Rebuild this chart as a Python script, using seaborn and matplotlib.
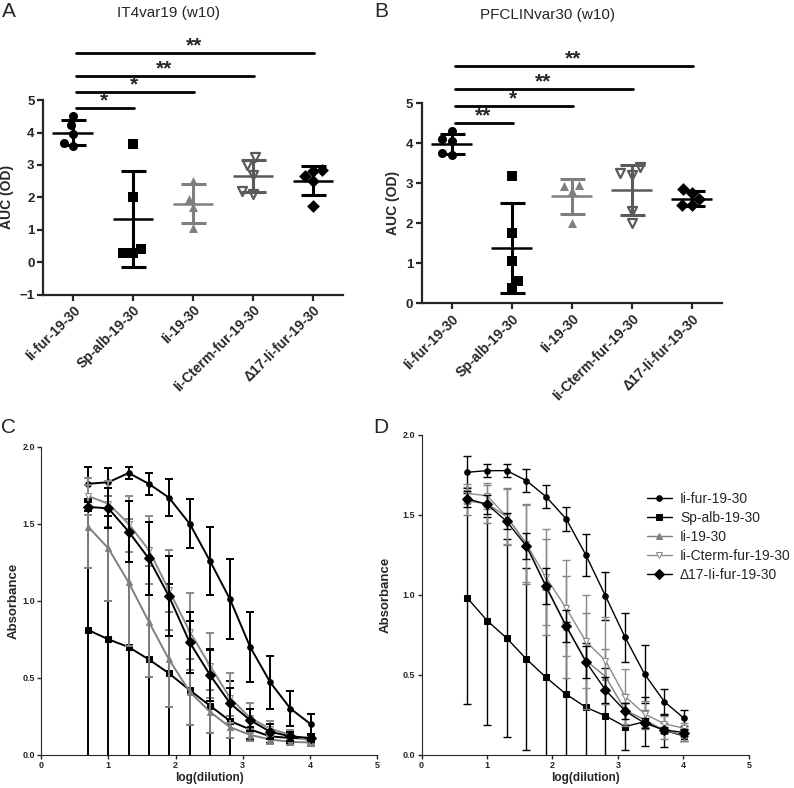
import numpy as np
import pandas as pd
import matplotlib
matplotlib.use("Agg")
import matplotlib.pyplot as plt
import seaborn as sns

# =========================
# data
# =========================
groups = ["Ii-fur-19-30", "Sp-alb-19-30", "Ii-19-30", "Ii-Cterm-fur-19-30", "\u039417-Ii-fur-19-30"]

# panel A: IT4var19 (w10), AUC per animal
a_iifur = [4.52, 4.22, 3.95, 3.69, 3.57]
a_spalb = [3.65, 2.02, 0.42, 0.28, 0.30]
a_ii = [2.50, 1.95, 1.70, 1.05]
a_cterm = [3.25, 3.00, 2.70, 2.20, 2.10]
a_d17 = [2.85, 2.80, 2.65, 2.50, 1.75]

# panel B: PFCLINvar30 (w10)
b_iifur = [4.30, 4.10, 4.05, 3.75, 3.70]
b_spalb = [3.17, 1.77, 1.05, 0.55, 0.38]
b_ii = [2.95, 2.92, 2.80, 2.02]
b_cterm = [3.40, 3.25, 3.20, 2.30, 2.00]
b_d17 = [2.85, 2.75, 2.60, 2.45, 2.45]

# significance comparisons (target group index, stars)
sig_a = [(1, "*"), (2, "*"), (3, "**"), (4, "**")]
sig_b = [(1, "**"), (2, "*"), (3, "**"), (4, "**")]

# panels C/D: absorbance vs log(dilution)
log_dil = [0.70, 1.00, 1.30, 1.60, 1.90, 2.21, 2.51, 2.81, 3.11, 3.41, 3.71, 4.01]

c_iifur = [1.76, 1.77, 1.83, 1.76, 1.67, 1.50, 1.26, 1.01, 0.70, 0.47, 0.30, 0.20]
c_iifur_sd = [0.11, 0.09, 0.04, 0.07, 0.12, 0.16, 0.22, 0.26, 0.23, 0.17, 0.115, 0.065]
c_spalb = [0.81, 0.75, 0.70, 0.62, 0.53, 0.42, 0.32, 0.22, 0.165, 0.12, 0.11, 0.105]
c_spalb_sd = [0.85, 0.80, 0.75, 0.66, 0.58, 0.45, 0.36, 0.26, 0.06, 0.04, 0.03, 0.03]
c_ii = [1.48, 1.34, 1.12, 0.865, 0.62, 0.41, 0.28, 0.18, 0.13, 0.10, 0.085, 0.08]
c_ii_sd = [0.27, 0.34, 0.41, 0.36, 0.31, 0.215, 0.14, 0.07, 0.04, 0.03, 0.02, 0.02]
c_cterm = [1.68, 1.63, 1.50, 1.33, 1.07, 0.80, 0.58, 0.37, 0.24, 0.17, 0.13, 0.09]
c_cterm_sd = [0.12, 0.15, 0.18, 0.22, 0.26, 0.25, 0.21, 0.16, 0.10, 0.05, 0.03, 0.02]
c_d17 = [1.61, 1.60, 1.45, 1.275, 1.03, 0.73, 0.52, 0.335, 0.225, 0.15, 0.12, 0.11]
c_d17_sd = [0.03, 0.13, 0.20, 0.24, 0.26, 0.20, 0.17, 0.10, 0.07, 0.05, 0.03, 0.02]

d_iifur = [1.767, 1.777, 1.777, 1.715, 1.615, 1.475, 1.25, 0.994, 0.735, 0.504, 0.333, 0.229]
d_iifur_sd = [0.10, 0.04, 0.04, 0.07, 0.073, 0.073, 0.13, 0.15, 0.155, 0.18, 0.08, 0.05]
d_spalb = [0.98, 0.84, 0.73, 0.60, 0.485, 0.379, 0.298, 0.244, 0.177, 0.208, 0.152, 0.119]
d_spalb_sd = [0.66, 0.65, 0.62, 0.57, 0.55, 0.45, 0.40, 0.30, 0.145, 0.155, 0.10, 0.035]
d_ii = [1.587, 1.57, 1.49, 1.32, 1.05, 0.80, 0.59, 0.49, 0.28, 0.22, 0.152, 0.125]
d_ii_sd = [0.09, 0.12, 0.18, 0.25, 0.30, 0.32, 0.30, 0.17, 0.10, 0.06, 0.05, 0.04]
d_cterm = [1.635, 1.62, 1.49, 1.32, 1.11, 0.917, 0.71, 0.59, 0.365, 0.256, 0.194, 0.167]
d_cterm_sd = [0.06, 0.08, 0.17, 0.24, 0.30, 0.30, 0.29, 0.27, 0.17, 0.08, 0.05, 0.03]
d_d17 = [1.60, 1.567, 1.46, 1.306, 1.056, 0.806, 0.583, 0.406, 0.275, 0.198, 0.156, 0.14]
d_d17_sd = [0.05, 0.06, 0.05, 0.08, 0.115, 0.10, 0.10, 0.08, 0.05, 0.03, 0.02, 0.02]

# =========================
# style
# =========================
sns.set_style("ticks")
plt.rcParams["font.family"] = ["Liberation Sans", "DejaVu Sans"]

# per group: color, marker, filled?
look = {
    groups[0]: ("black", "o", True),
    groups[1]: ("black", "s", True),
    groups[2]: ("#7f7f7f", "^", True),
    groups[3]: ("#5a5a5a", "v", False),
    groups[4]: ("black", "D", True),
}

fig = plt.figure(figsize=(7.94, 7.88), dpi=100)


def scatter_panel(ax, values, sig, levels, ylim):
    rows = []
    for g, vals in zip(groups, values):
        for v in vals:
            rows.append({"group": g, "auc": v})
    df = pd.DataFrame(rows)

    for i, g in enumerate(groups):
        col, mk, filled = look[g]
        sub = df[df["group"] == g]
        if filled:
            sns.swarmplot(data=sub, x="group", y="auc", order=groups, color=col,
                          marker=mk, size=6.5, ax=ax)
        else:
            sns.swarmplot(data=sub, x="group", y="auc", order=groups, color="white",
                          edgecolor=col, linewidth=1.6, marker=mk, size=6.5, ax=ax)
        m = sub["auc"].mean()
        sd = sub["auc"].std()
        ax.hlines(m, i - 0.34, i + 0.34, color=col, lw=1.8, zorder=3)
        ax.errorbar(i, m, yerr=sd, fmt="none", ecolor=col, elinewidth=2.2,
                    capsize=9, capthick=2.2, zorder=3)

    # significance lines
    for (target, stars), y in zip(sig, levels):
        ax.plot([0.05, target + 0.02], [y, y], color="black", lw=2, clip_on=False)
        ax.text((target + 0.05) / 2, y - 0.06, stars, ha="center", va="bottom",
                fontsize=15, fontweight="bold")

    ax.set_xlim(-0.5, 4.5)
    ax.set_ylim(*ylim)
    ax.set_yticks(range(ylim[0], ylim[1] + 1))
    ax.set_xlabel("")
    ax.set_ylabel("AUC (OD)", fontsize=10, fontweight="bold", labelpad=4)
    ax.set_xticks(range(len(groups)))
    ax.set_xticklabels(groups, rotation=45, ha="right", rotation_mode="anchor",
                       fontsize=10, fontweight="bold")
    for lab in ax.get_yticklabels():
        lab.set_fontweight("bold")
        lab.set_fontsize(9.5)
    ax.tick_params(width=1.6, length=4, pad=2)
    for s in ["left", "bottom"]:
        ax.spines[s].set_linewidth(1.6)
    sns.despine(ax=ax)


def curve_panel(ax, series, lw, ypad):
    styles = [
        ("black", "o", "black", 4),
        ("black", "s", "black", 5),
        ("#7f7f7f", "^", "#7f7f7f", 5),
        ("#8a8a8a", "v", "white", 5),
        ("black", "D", "black", 5),
    ]
    for g, (means, sds), (col, mk, mfc, ms) in zip(groups, series, styles):
        ax.errorbar(log_dil, means, yerr=sds, fmt="none", ecolor=col,
                    elinewidth=lw, capsize=3, capthick=lw)
        sns.lineplot(x=log_dil, y=means, color=col, marker=mk, markersize=ms,
                     markerfacecolor=mfc, markeredgecolor=col, lw=lw, label=g, ax=ax)
    ax.set_xlim(0, 5)
    ax.set_ylim(0, 2)
    ax.set_xticks(range(6))
    ax.set_yticks([0, 0.5, 1.0, 1.5, 2.0])
    ax.set_yticklabels(["0.0", "0.5", "1.0", "1.5", "2.0"])
    ax.set_xlabel("log(dilution)", fontsize=8.5, fontweight="bold", labelpad=1)
    ax.set_ylabel("Absorbance", fontsize=9.5, fontweight="bold", labelpad=ypad)
    for lab in ax.get_xticklabels() + ax.get_yticklabels():
        lab.set_fontweight("bold")
        lab.set_fontsize(6.5)
    ax.tick_params(width=1, length=3, pad=1.5)
    sns.despine(ax=ax)


# =========================
# panel A
# =========================
ax_a = fig.add_axes([0.054, 0.626, 0.378, 0.247])
scatter_panel(ax_a, [a_iifur, a_spalb, a_ii, a_cterm, a_d17], sig_a,
              [4.75, 5.25, 5.74, 6.45], (-1, 5))
fig.text(0.212, 0.983, "IT4var19 (w10)", ha="center", va="center", fontsize=11)

# =========================
# panel B
# =========================
ax_b = fig.add_axes([0.531, 0.615, 0.378, 0.254])
scatter_panel(ax_b, [b_iifur, b_spalb, b_ii, b_cterm, b_d17], sig_b,
              [4.5, 4.92, 5.36, 5.94], (0, 5))
fig.text(0.689, 0.981, "PFCLINvar30 (w10)", ha="center", va="center", fontsize=11)

# =========================
# panel C
# =========================
ax_c = fig.add_axes([0.052, 0.042, 0.423, 0.391])
curve_panel(ax_c, [(c_iifur, c_iifur_sd), (c_spalb, c_spalb_sd), (c_ii, c_ii_sd),
                   (c_cterm, c_cterm_sd), (c_d17, c_d17_sd)], 1.4, 2)
ax_c.get_legend().remove()

# =========================
# panel D
# =========================
ax_d = fig.add_axes([0.531, 0.042, 0.412, 0.406])
curve_panel(ax_d, [(d_iifur, d_iifur_sd), (d_spalb, d_spalb_sd), (d_ii, d_ii_sd),
                   (d_cterm, d_cterm_sd), (d_d17, d_d17_sd)], 1.0, 8)
ax_d.legend(loc="upper left", bbox_to_anchor=(0.65, 0.86), frameon=False,
            fontsize=10, handlelength=1.8, handletextpad=0.6, labelspacing=0.35)

# panel letters
for x, y, s in [(0.011, 0.985, "A"), (0.48, 0.985, "B"), (0.011, 0.457, "C"), (0.48, 0.457, "D")]:
    fig.text(x, y, s, ha="center", va="center", fontsize=15)

fig.savefig("out.png", dpi=100)
